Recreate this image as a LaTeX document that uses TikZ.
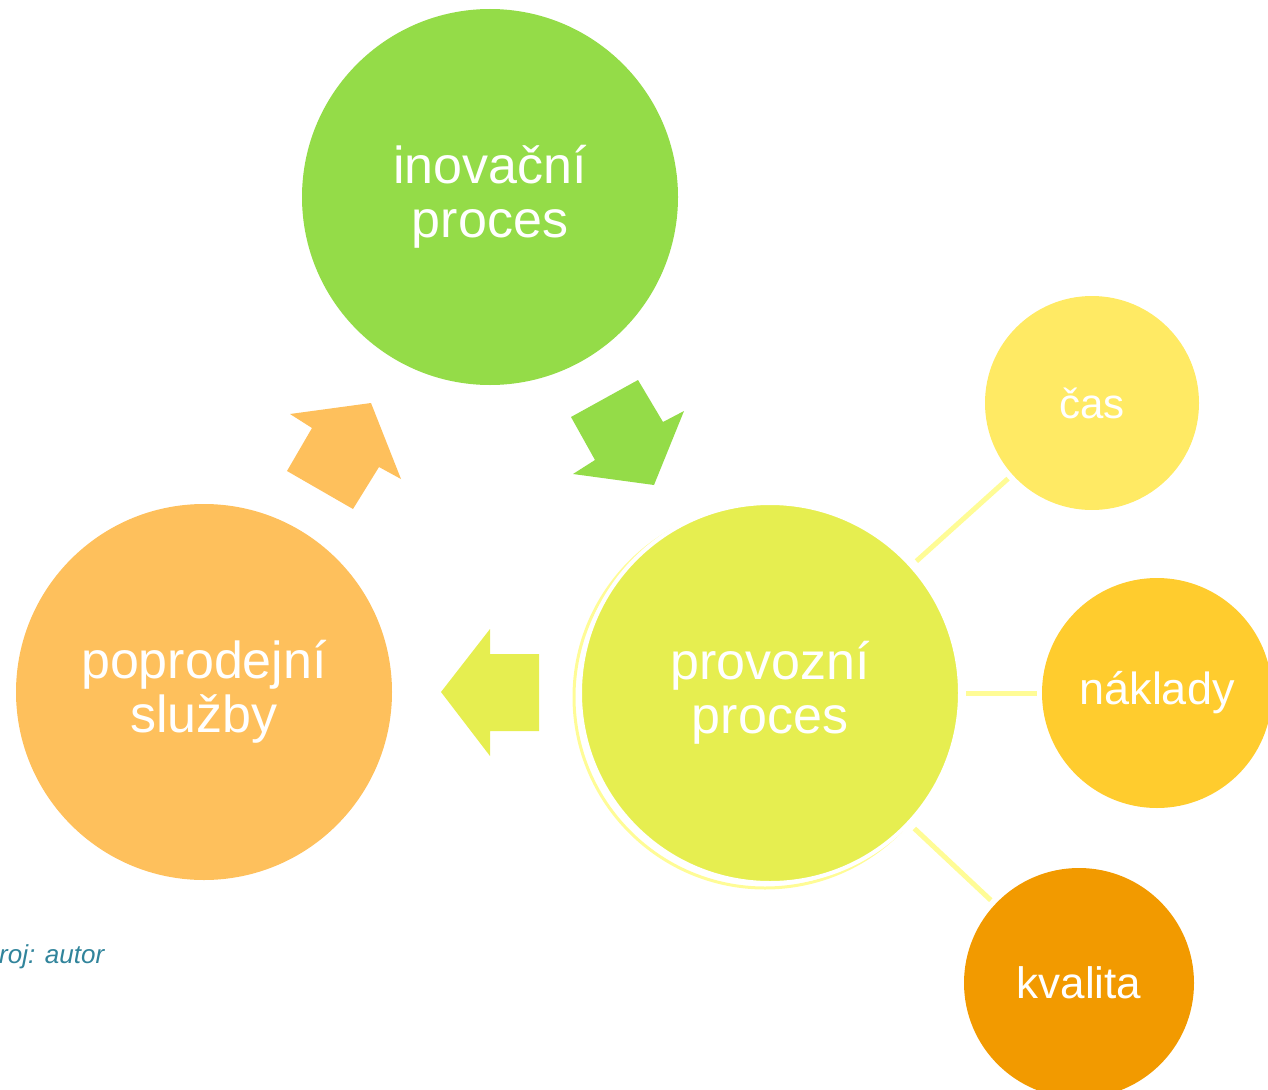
\documentclass[tikz,border=0pt]{standalone}
\usepackage{fontspec}
\setmainfont{Liberation Sans}
\definecolor{inogreen}{RGB}{148,220,72}
\definecolor{provyellow}{RGB}{230,238,80}
\definecolor{servorange}{RGB}{254,192,92}
\definecolor{timeyellow}{RGB}{255,234,100}
\definecolor{costgold}{RGB}{255,204,46}
\definecolor{qualorange}{RGB}{242,154,0}
\definecolor{linkyellow}{RGB}{255,252,150}
\definecolor{sourceteal}{RGB}{49,132,155}
\begin{document}
\begin{tikzpicture}[x=1pt,y=-1pt,
  bubble/.style={circle, inner sep=0pt, outer sep=0pt, text=white, align=center},
  bigfont/.style={font=\fontsize{52}{54}\selectfont},
  bigbubble/.style={bubble, minimum size=376pt, bigfont},
  link/.style={draw=linkyellow, line width=5pt}
]
\useasboundingbox (0,0) rectangle (1268,1089);

% main process circles
\node[bigbubble, fill=inogreen] (ino) at (490,197) {inovační\\proces};
\node[bigbubble, fill=servorange] (serv) at (204,692) {poprodejní\\služby};

% thin halo behind the operating process
\draw[draw=linkyellow, line width=3pt] (765,697) circle (191);
\node[bubble, minimum size=380pt, fill=provyellow, draw=white, line width=4pt, bigfont]
  (prov) at (770,693) {provozní\\proces};

% parameter circles
\node[bubble, minimum size=214pt, fill=timeyellow, font=\fontsize{42}{42}\selectfont] (cas) at (1092,403) {čas};
\node[bubble, minimum size=230pt, fill=costgold, font=\fontsize{45}{45}\selectfont] (nakl) at (1157,693) {náklady};
\node[bubble, minimum size=230pt, fill=qualorange, font=\fontsize{44}{44}\selectfont] (kval) at (1079,983) {kvalita};

% links to parameters
\draw[link, shorten <=7pt, shorten >=6pt] (prov) -- (cas);
\draw[link, shorten <=6pt, shorten >=5pt] (prov) -- (nakl);
\draw[link, shorten <=8pt, shorten >=6pt] (prov) -- (kval);

% block arrows of the cycle
\fill[servorange] (290,414) -- (371,403) -- (401,479) -- (379,467) -- (353,509) -- (287,471) -- (312,428) -- cycle;
\fill[inogreen] (571,417) -- (638,380) -- (663,422) -- (684,411) -- (654,485) -- (573,474) -- (595,460) -- cycle;
\fill[provyellow] (441,692) -- (490,629) -- (490,654) -- (539,654) -- (539,731) -- (490,731) -- (490,756) -- cycle;

% source note
\node[anchor=base west, inner sep=0pt, text=sourceteal, font=\fontsize{26}{26}\selectfont\itshape] (src) at (-1,963) {roj: autor};
\end{tikzpicture}
\end{document}
